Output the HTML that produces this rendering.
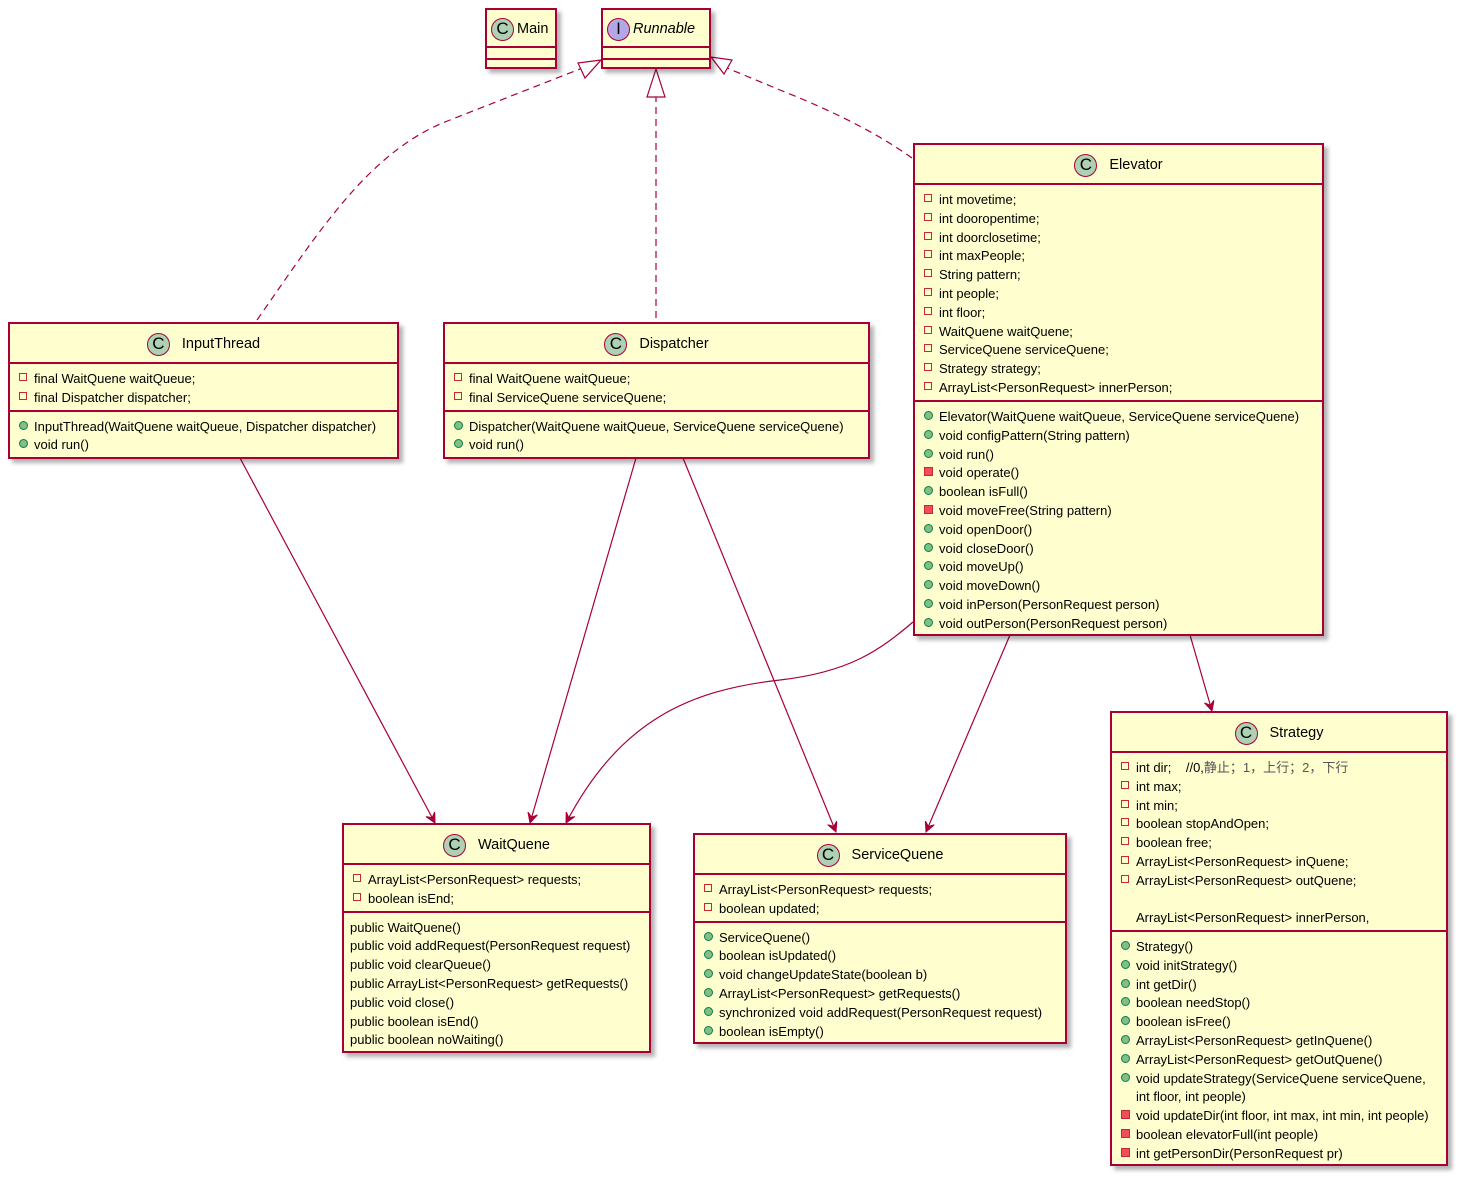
<!DOCTYPE html>
<html><head><meta charset="utf-8"><style>
body{margin:0;width:1463px;height:1181px;background:#fff;position:relative;overflow:hidden;font-family:"Liberation Sans","Noto Sans CJK SC",sans-serif;}
.b{position:absolute;box-sizing:border-box;background:#FEFECE;border:2px solid #A80036;box-shadow:4px 4px 4px rgba(0,0,0,0.3);}
.h{height:38px;display:flex;align-items:center;justify-content:center;font-size:14.5px;color:#000;padding-top:2px;box-sizing:border-box;}
.c{width:23px;height:23px;border-radius:50%;background:#ADD1B2;border:1px solid #A80036;box-sizing:border-box;font-size:17px;display:inline-flex;align-items:center;justify-content:center;margin-right:12px;font-family:"Liberation Sans",sans-serif;}
.s{border-top:2px solid #A80036;box-sizing:border-box;padding:6px 0 2px 0;}
.r{position:relative;height:18.8px;line-height:18.8px;font-size:13px;padding-left:24px;white-space:pre;color:#000;}
.r.n{padding-left:6px;}
.r::before{content:"";position:absolute;left:9px;top:3px;width:8px;height:8px;box-sizing:border-box;}
.f::before{border:1px solid #C82930;background:transparent;}
.p::before{border-radius:50%;background:#84BE84;border:1px solid #038048;width:9px;height:9px;}
.v::before{background:#F24D5C;border:1px solid #C82930;width:9px;height:9px;}
svg{position:absolute;left:0;top:0;}
</style></head><body>
<svg width="1463" height="1181">
<defs>
<marker id="a" markerWidth="12" markerHeight="12" refX="10" refY="5" orient="auto" markerUnits="userSpaceOnUse"><path d="M0,0 L10,5 L0,10 L4,5 Z" fill="#A80036" stroke="#A80036"/></marker>
</defs>
<g fill="none" stroke="#A80036" stroke-width="1.2">
<path d="M257,320 C320,230 370,150 450,120 L585,67" stroke-dasharray="7,5"/>
<polygon points="601,60 578,63 585,78" fill="#fff"/>
<path d="M656,318 L656,97" stroke-dasharray="7,5"/>
<polygon points="656,69 647,97 665,97" fill="#fff"/>
<path d="M912,158 C870,128 820,106 780,90 L727,68" stroke-dasharray="7,5"/>
<polygon points="711,57 724,74 732,60" fill="#fff"/>
<path d="M240,458 L435,823" marker-end="url(#a)"/>
<path d="M636,458 L530,823" marker-end="url(#a)"/>
<path d="M683,458 L836,832" marker-end="url(#a)"/>
<path d="M913,622 C880,650 850,672 780,680 C690,690 620,720 566,823" marker-end="url(#a)"/>
<path d="M1010,635 L926,832" marker-end="url(#a)"/>
<path d="M1190,635 L1212,711" marker-end="url(#a)"/>
</g>
</svg>

<div class="b" style="left:485px;top:8px;width:72px;height:61px;"><div class="h" style="height:36px;justify-content:flex-start;padding-left:4px;padding-top:2px"><span class="c" style="margin-right:3px">C</span>Main</div><div class="s" style="height:12px;padding:0"></div><div class="s" style="height:11px;padding:0"></div></div>

<div class="b" style="left:601px;top:8px;width:110px;height:61px;"><div class="h" style="height:36px;justify-content:flex-start;padding-left:4px;padding-top:2px"><span class="c" style="background:#B4A7E5;margin-right:3px">I</span><i>Runnable</i></div><div class="s" style="height:12px;padding:0"></div><div class="s" style="height:11px;padding:0"></div></div>

<div class="b" style="left:8px;top:322px;width:391px;height:137px;"><div class="h">
<span class="c">C</span>InputThread</div>
<div class="s"><div class="r f">final WaitQuene waitQueue;</div><div class="r f">final Dispatcher dispatcher;</div></div>
<div class="s"><div class="r p">InputThread(WaitQuene waitQueue, Dispatcher dispatcher)</div><div class="r p">void run()</div></div></div>

<div class="b" style="left:443px;top:322px;width:427px;height:137px;"><div class="h"><span class="c">C</span>Dispatcher</div>
<div class="s"><div class="r f">final WaitQuene waitQueue;</div><div class="r f">final ServiceQuene serviceQuene;</div></div>
<div class="s"><div class="r p">Dispatcher(WaitQuene waitQueue, ServiceQuene serviceQuene)</div><div class="r p">void run()</div></div></div>

<div class="b" style="left:913px;top:143px;width:411px;height:493px;"><div class="h"><span class="c">C</span>Elevator</div>
<div class="s" style="height:217px"><div class="r f">int movetime;</div><div class="r f">int dooropentime;</div><div class="r f">int doorclosetime;</div><div class="r f">int maxPeople;</div><div class="r f">String pattern;</div><div class="r f">int people;</div><div class="r f">int floor;</div><div class="r f">WaitQuene waitQuene;</div><div class="r f">ServiceQuene serviceQuene;</div><div class="r f">Strategy strategy;</div><div class="r f">ArrayList&lt;PersonRequest&gt; innerPerson;</div></div>
<div class="s"><div class="r p">Elevator(WaitQuene waitQueue, ServiceQuene serviceQuene)</div><div class="r p">void configPattern(String pattern)</div><div class="r p">void run()</div><div class="r v">void operate()</div><div class="r p">boolean isFull()</div><div class="r v">void moveFree(String pattern)</div><div class="r p">void openDoor()</div><div class="r p">void closeDoor()</div><div class="r p">void moveUp()</div><div class="r p">void moveDown()</div><div class="r p">void inPerson(PersonRequest person)</div><div class="r p">void outPerson(PersonRequest person)</div></div></div>

<div class="b" style="left:342px;top:823px;width:309px;height:230px;"><div class="h"><span class="c">C</span>WaitQuene</div>
<div class="s"><div class="r f">ArrayList&lt;PersonRequest&gt; requests;</div><div class="r f">boolean isEnd;</div></div>
<div class="s"><div class="r n">public WaitQuene()</div><div class="r n">public void addRequest(PersonRequest request)</div><div class="r n">public void clearQueue()</div><div class="r n">public ArrayList&lt;PersonRequest&gt; getRequests()</div><div class="r n">public void close()</div><div class="r n">public boolean isEnd()</div><div class="r n">public boolean noWaiting()</div></div></div>

<div class="b" style="left:693px;top:833px;width:374px;height:211px;"><div class="h"><span class="c">C</span>ServiceQuene</div>
<div class="s"><div class="r f">ArrayList&lt;PersonRequest&gt; requests;</div><div class="r f">boolean updated;</div></div>
<div class="s"><div class="r p">ServiceQuene()</div><div class="r p">boolean isUpdated()</div><div class="r p">void changeUpdateState(boolean b)</div><div class="r p">ArrayList&lt;PersonRequest&gt; getRequests()</div><div class="r p">synchronized void addRequest(PersonRequest request)</div><div class="r p">boolean isEmpty()</div></div></div>

<div class="b" style="left:1110px;top:711px;width:338px;height:455px;"><div class="h"><span class="c">C</span>Strategy</div>
<div class="s" style="height:179px"><div class="r f">int dir;    //0,<span style="color:#555">静止；1，上行；2，下行</span></div><div class="r f">int max;</div><div class="r f">int min;</div><div class="r f">boolean stopAndOpen;</div><div class="r f">boolean free;</div><div class="r f">ArrayList&lt;PersonRequest&gt; inQuene;</div><div class="r f">ArrayList&lt;PersonRequest&gt; outQuene;</div><div class="r"> </div><div class="r">ArrayList&lt;PersonRequest&gt; innerPerson,</div></div>
<div class="s"><div class="r p">Strategy()</div><div class="r p">void initStrategy()</div><div class="r p">int getDir()</div><div class="r p">boolean needStop()</div><div class="r p">boolean isFree()</div><div class="r p">ArrayList&lt;PersonRequest&gt; getInQuene()</div><div class="r p">ArrayList&lt;PersonRequest&gt; getOutQuene()</div><div class="r p">void updateStrategy(ServiceQuene serviceQuene,</div><div class="r">int floor, int people)</div><div class="r v">void updateDir(int floor, int max, int min, int people)</div><div class="r v">boolean elevatorFull(int people)</div><div class="r v">int getPersonDir(PersonRequest pr)</div></div></div>
</body></html>
